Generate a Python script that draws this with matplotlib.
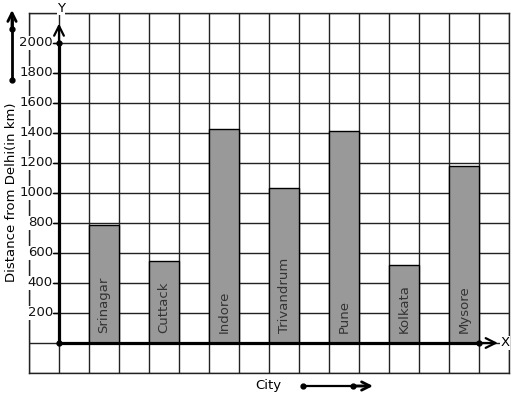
import numpy as np
import matplotlib
matplotlib.use('Agg')
import matplotlib.pyplot as plt

# data
CITIES = ['Srinagar', 'Cuttack', 'Indore', 'Trivandrum', 'Pune', 'Kolkata', 'Mysore']
DISTANCES = [785, 550, 1425, 1030, 1410, 520, 1180]
BAR_POS = [1, 3, 5, 7, 9, 11, 13]
Y_TICKS = [200, 400, 600, 800, 1000, 1200, 1400, 1600, 1800, 2000]

W, H = 517, 399
GRID_COLOR = '#222222'
BAR_COLOR = '#999999'
FS = 9.5

fig = plt.figure(figsize=(W / 100, H / 100), dpi=100)
ax = fig.add_axes([29 / W, 26 / H, 480 / W, 360 / H])
ax.set_xlim(-1, 15)
ax.set_ylim(-200, 2200)

# square grid
ax.set_xticks(np.arange(-1, 16))
ax.set_yticks(np.arange(-200, 2201, 200))
ax.grid(color=GRID_COLOR, lw=1, zorder=0)
ax.set_axisbelow(True)
ax.tick_params(length=0, labelbottom=False, labelleft=False)
for sp in ax.spines.values():
    sp.set_color(GRID_COLOR)
    sp.set_linewidth(1)

# bars
ax.bar(BAR_POS, DISTANCES, width=1, align='edge', color=BAR_COLOR,
       edgecolor='black', lw=1, zorder=2)
for x, name in zip(BAR_POS, CITIES):
    ax.text(x + 0.5, 65, name, rotation=90, ha='center', va='bottom',
            fontsize=FS, color='#333333', zorder=3)

# axes with arrows
arrow = dict(arrowstyle='->,head_length=0.7,head_width=0.35', lw=1.6, color='black',
             shrinkA=0, shrinkB=0)
ax.plot([0, 0], [0, 2000], color='black', lw=2.3, zorder=4, clip_on=False)
ax.annotate('', xy=(0, 2130), xytext=(0, 1990), arrowprops=arrow, zorder=4,
            annotation_clip=False)
ax.plot([0, 14], [0, 0], color='black', lw=2.3, zorder=4, clip_on=False)
ax.annotate('', xy=(14.63, 0), xytext=(13.9, 0), arrowprops=arrow, zorder=4,
            annotation_clip=False)
ax.plot([0, 0, 14], [0, 2000, 0], 'o', color='black', ms=3.5, zorder=5, clip_on=False)

# y tick labels and marks
for v in Y_TICKS:
    ax.plot([-0.2, 0], [v, v], color='black', lw=1, zorder=4, clip_on=False)
    ax.text(-0.2, v, str(v), ha='right', va='center', fontsize=FS, color='#111111',
            zorder=3, bbox=dict(fc='white', ec='none', pad=0.4))

ax.text(14.87, 0, 'X', ha='center', va='center', fontsize=FS, zorder=3,
        bbox=dict(fc='white', ec='none', pad=0.3))
ax.text(0.07, 2232, 'Y', ha='center', va='center', fontsize=FS, zorder=3,
        clip_on=False, bbox=dict(fc='white', ec='none', pad=0.3))

# axis titles with arrows
fig.text(12 / W, 1 - 192 / H, 'Distance from Delhi(in km)', rotation=90,
         ha='center', va='center', fontsize=FS)
fig.text(268 / W, 1 - 385 / H, 'City', ha='center', va='center', fontsize=FS)

side_arrow = dict(arrowstyle='->,head_length=0.6,head_width=0.3', lw=2, color='black',
                  shrinkA=0, shrinkB=0)
fig.add_artist(plt.Line2D([12 / W, 12 / W], [1 - 80 / H, 1 - 20 / H], color='black', lw=2))
ax.annotate('', xy=(12, H - 10), xytext=(12, H - 30), xycoords='figure pixels',
            textcoords='figure pixels', arrowprops=side_arrow, annotation_clip=False)
fig.add_artist(plt.Line2D([12 / W, 12 / W], [1 - 80 / H, 1 - 29 / H], marker='o',
                          ls='none', color='black', ms=3.5))

fig.add_artist(plt.Line2D([303 / W, 362 / W], [1 - 386 / H, 1 - 386 / H], color='black', lw=1.6))
ax.annotate('', xy=(373, H - 386), xytext=(355, H - 386), xycoords='figure pixels',
            textcoords='figure pixels', arrowprops=side_arrow, annotation_clip=False)
fig.add_artist(plt.Line2D([303 / W, 353 / W], [1 - 386 / H, 1 - 386 / H], marker='o',
                          ls='none', color='black', ms=3.5))

fig.savefig('out.png', dpi=100, facecolor='white')
